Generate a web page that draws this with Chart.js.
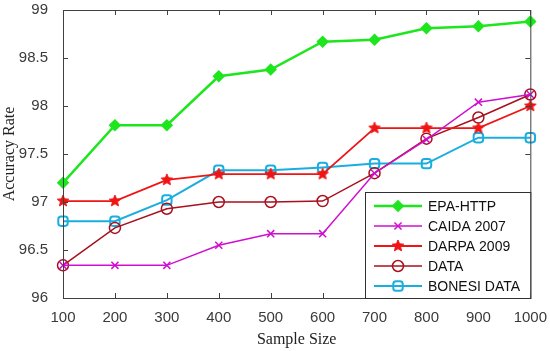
<!DOCTYPE html>
<html><head><meta charset="utf-8">
<script src="https://cdn.jsdelivr.net/npm/chart.js@4/dist/chart.umd.min.js"></script>
<style>html,body{margin:0;padding:0;background:#fff}#wrap{width:550px;height:351px}</style>
</head><body><div id="wrap"><canvas id="c" width="550" height="351"></canvas></div>
<script>
const sampleSizes = ['100','200','300','400','500','600','700','800','900','1000'];
const epaHttp  = [97.20, 97.80, 97.80, 98.31, 98.38, 98.67, 98.69, 98.81, 98.83, 98.88];
const caida2007= [96.34, 96.34, 96.34, 96.55, 96.67, 96.67, 97.30, 97.65, 98.04, 98.12];
const darpa2009= [97.01, 97.01, 97.23, 97.29, 97.29, 97.29, 97.77, 97.77, 97.77, 98.00];
const dataSet  = [96.34, 96.73, 96.93, 97.00, 97.00, 97.01, 97.30, 97.66, 97.88, 98.12];
const bonesi   = [96.80, 96.80, 97.02, 97.33, 97.33, 97.36, 97.40, 97.40, 97.67, 97.67];
const seriesNames = ['EPA-HTTP','CAIDA 2007','DARPA 2009','DATA','BONESI DATA'];
const yTicks = [96, 96.5, 97, 97.5, 98, 98.5, 99];

function starCanvas(color, r){
  const s = r*2+4, cv = document.createElement('canvas'); cv.width = s; cv.height = s;
  const g = cv.getContext('2d'); g.fillStyle = color; g.strokeStyle = color; g.lineWidth = 1;
  g.beginPath();
  for (let i=0;i<10;i++){
    const a = -Math.PI/2 + i*Math.PI/5, rr = i%2===0 ? r : r*0.45;
    const x = s/2 + rr*Math.cos(a), y = s/2 + rr*Math.sin(a);
    i===0 ? g.moveTo(x,y) : g.lineTo(x,y);
  }
  g.closePath(); g.fill(); g.stroke();
  return cv;
}
const star = starCanvas('#f01414', 6);

const styles = [
  {color:'#1ee61e', pt:'rectRot', r:4.5, bw:2.5, fill:'#1ee61e', lw:2.5},
  {color:'#d010d0', pt:'crossRot', r:5, bw:1.5, fill:'rgba(0,0,0,0)', lw:1.5},
  {color:'#f01414', pt:star, r:6, bw:1.5, fill:'rgba(0,0,0,0)', lw:1.8},
  {color:'#a8101e', pt:'circle', r:5.5, bw:1.5, fill:'rgba(0,0,0,0)', lw:1.5},
  {color:'#1aaee0', pt:'rectRounded', r:5.5, bw:2, fill:'rgba(0,0,0,0)', lw:2},
];
const vals = [epaHttp, caida2007, darpa2009, dataSet, bonesi];

const framePlugin = {
  id:'frame',
  afterDatasetsDraw(chart){
    const {ctx, chartArea:a, scales:{x,y}} = chart;
    ctx.save();
    ctx.strokeStyle = '#404040'; ctx.lineWidth = 1;
    ctx.strokeRect(a.left+0.5, a.top+0.5, a.right-a.left, a.bottom-a.top);
    ctx.beginPath();
    sampleSizes.forEach((s,i)=>{
      const px = Math.round(x.getPixelForValue(i))+0.5;
      ctx.moveTo(px, a.bottom); ctx.lineTo(px, a.bottom-5);
      ctx.moveTo(px, a.top); ctx.lineTo(px, a.top+5);
    });
    yTicks.forEach(v=>{
      const py = Math.round(y.getPixelForValue(v))+0.5;
      ctx.moveTo(a.left, py); ctx.lineTo(a.left+5, py);
      ctx.moveTo(a.right, py); ctx.lineTo(a.right-5, py);
    });
    ctx.stroke();
    // legend
    const lx = 365, ly = 192, lw = a.right - lx, lh = a.bottom - ly;
    ctx.fillStyle = '#fff'; ctx.fillRect(lx, ly, lw, lh);
    ctx.strokeStyle = '#303030'; ctx.lineWidth = 1; ctx.strokeRect(lx+0.5, ly+0.5, lw, lh);
    ctx.font = '14px "Liberation Sans", Arial, sans-serif';
    ctx.textBaseline = 'middle'; ctx.textAlign = 'left';
    seriesNames.forEach((n,i)=>{
      const cy = 206 + i*20, st = styles[i];
      ctx.strokeStyle = st.color; ctx.lineWidth = st.lw;
      ctx.beginPath(); ctx.moveTo(374, cy); ctx.lineTo(422, cy); ctx.stroke();
      ctx.fillStyle = st.fill;
      ctx.strokeStyle = st.color; ctx.lineWidth = st.bw;
      Chart.helpers.drawPoint(ctx, {pointStyle: st.pt, radius: st.r, borderWidth: st.bw, rotation:0}, 398, cy);
      ctx.fillStyle = '#111';
      ctx.fillText(n, 428, cy+1);
    });
    ctx.restore();
  }
};

new Chart(document.getElementById('c'), {
  type:'line',
  data:{
    labels: sampleSizes,
    datasets: seriesNames.map((n,i)=>({
      label:n, data: vals[i], borderColor: styles[i].color, backgroundColor: styles[i].fill,
      pointStyle: styles[i].pt, pointRadius: styles[i].r, pointBorderWidth: styles[i].bw,
      pointBackgroundColor: styles[i].fill, pointBorderColor: styles[i].color,
      borderWidth: styles[i].lw, tension:0, fill:false
    }))
  },
  options:{
    responsive:false, animation:false, devicePixelRatio:1,
    layout:{padding:{top:10, right:16, left:0, bottom:0}},
    plugins:{legend:{display:false}, tooltip:{enabled:false}},
    scales:{
      x:{
        offset:false,
        grid:{display:false},
        border:{display:false},
        ticks:{color:'#3a3a3a', font:{family:'"Liberation Sans", Arial, sans-serif', size:15}, padding:3, maxRotation:0, autoSkip:false},
        title:{display:true, text:'Sample Size', color:'#222', font:{family:'"Liberation Serif", "Times New Roman", serif', size:16}, padding:{top:0,bottom:2}},
        afterFit(s){ s.height = 53; }
      },
      y:{
        min:96, max:99,
        afterBuildTicks(s){ s.ticks = yTicks.map(v=>({value:v})); },
        grid:{display:false},
        border:{display:false},
        ticks:{color:'#3a3a3a', font:{family:'"Liberation Sans", Arial, sans-serif', size:15}, padding:7,
          callback:v=>String(v)},
        title:{display:true, text:'Accuracy Rate', color:'#222', font:{family:'"Liberation Serif", "Times New Roman", serif', size:16}, padding:{top:0,bottom:2}},
        afterFit(s){ s.width = 63; s.paddingTop = 0; s.paddingBottom = 0; }
      }
    }
  },
  plugins:[framePlugin]
});
</script></body></html>
